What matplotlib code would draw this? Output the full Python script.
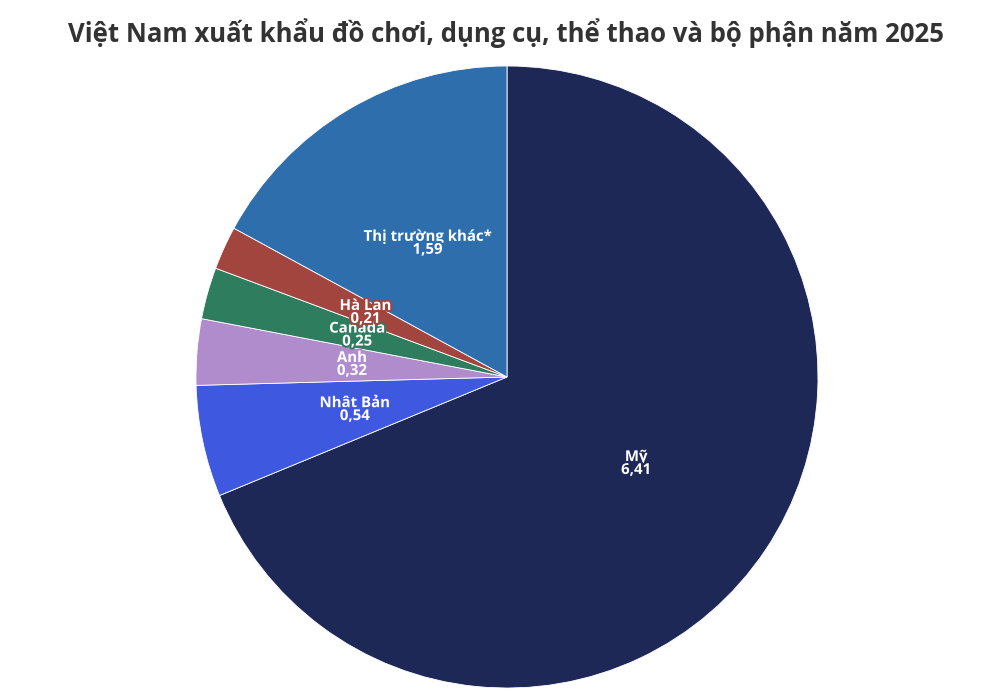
import matplotlib
matplotlib.use("Agg")
import matplotlib.pyplot as plt
import matplotlib.patheffects as pe
import numpy as np

title = "Việt Nam xuất khẩu đồ chơi, dụng cụ, thể thao và bộ phận năm 2025"
markets = ["Mỹ", "Nhật Bản", "Anh", "Canada", "Hà Lan", "Thị trường khác*"]
values = [6.41, 0.54, 0.32, 0.25, 0.21, 1.59]
value_labels = ["6,41", "0,54", "0,32", "0,25", "0,21", "1,59"]
colors = ["#1e2857", "#3f58e0", "#b08ccc", "#2f7d5f", "#a3453f", "#2e6ead"]

plt.rcParams['font.family'] = ['Open Sans', 'DejaVu Sans']

fig = plt.figure(figsize=(10, 6.99), dpi=100)
cx, cy, r = 507, 377, 311
W, H = 1000, 699
ax = fig.add_axes([(cx - r) / W, (H - cy - r) / H, 2 * r / W, 2 * r / H])
wedges, _ = ax.pie(values, colors=colors, startangle=90, counterclock=False,
                   radius=1, wedgeprops=dict(linewidth=0.6, edgecolor="white"))
ax.set_xlim(-1, 1)
ax.set_ylim(-1, 1)
ax.set_aspect("equal")
ax.axis("off")

for w, name, vl, c in zip(wedges, markets, value_labels, colors):
    ang = np.deg2rad((w.theta1 + w.theta2) / 2)
    x, y = 0.5 * np.cos(ang), 0.5 * np.sin(ang)
    ax.text(x, y, f"{name}\n{vl}", ha="center", va="center", color="white",
            fontsize=10.8, fontweight="bold", linespacing=0.9,
            path_effects=[pe.withStroke(linewidth=3, foreground=c)])

fig.text(0.506, 1 - 33 / H, title, ha="center", va="center", fontsize=18.5,
         fontweight="bold", color="#333333")

fig.savefig("out.png", dpi=100)
